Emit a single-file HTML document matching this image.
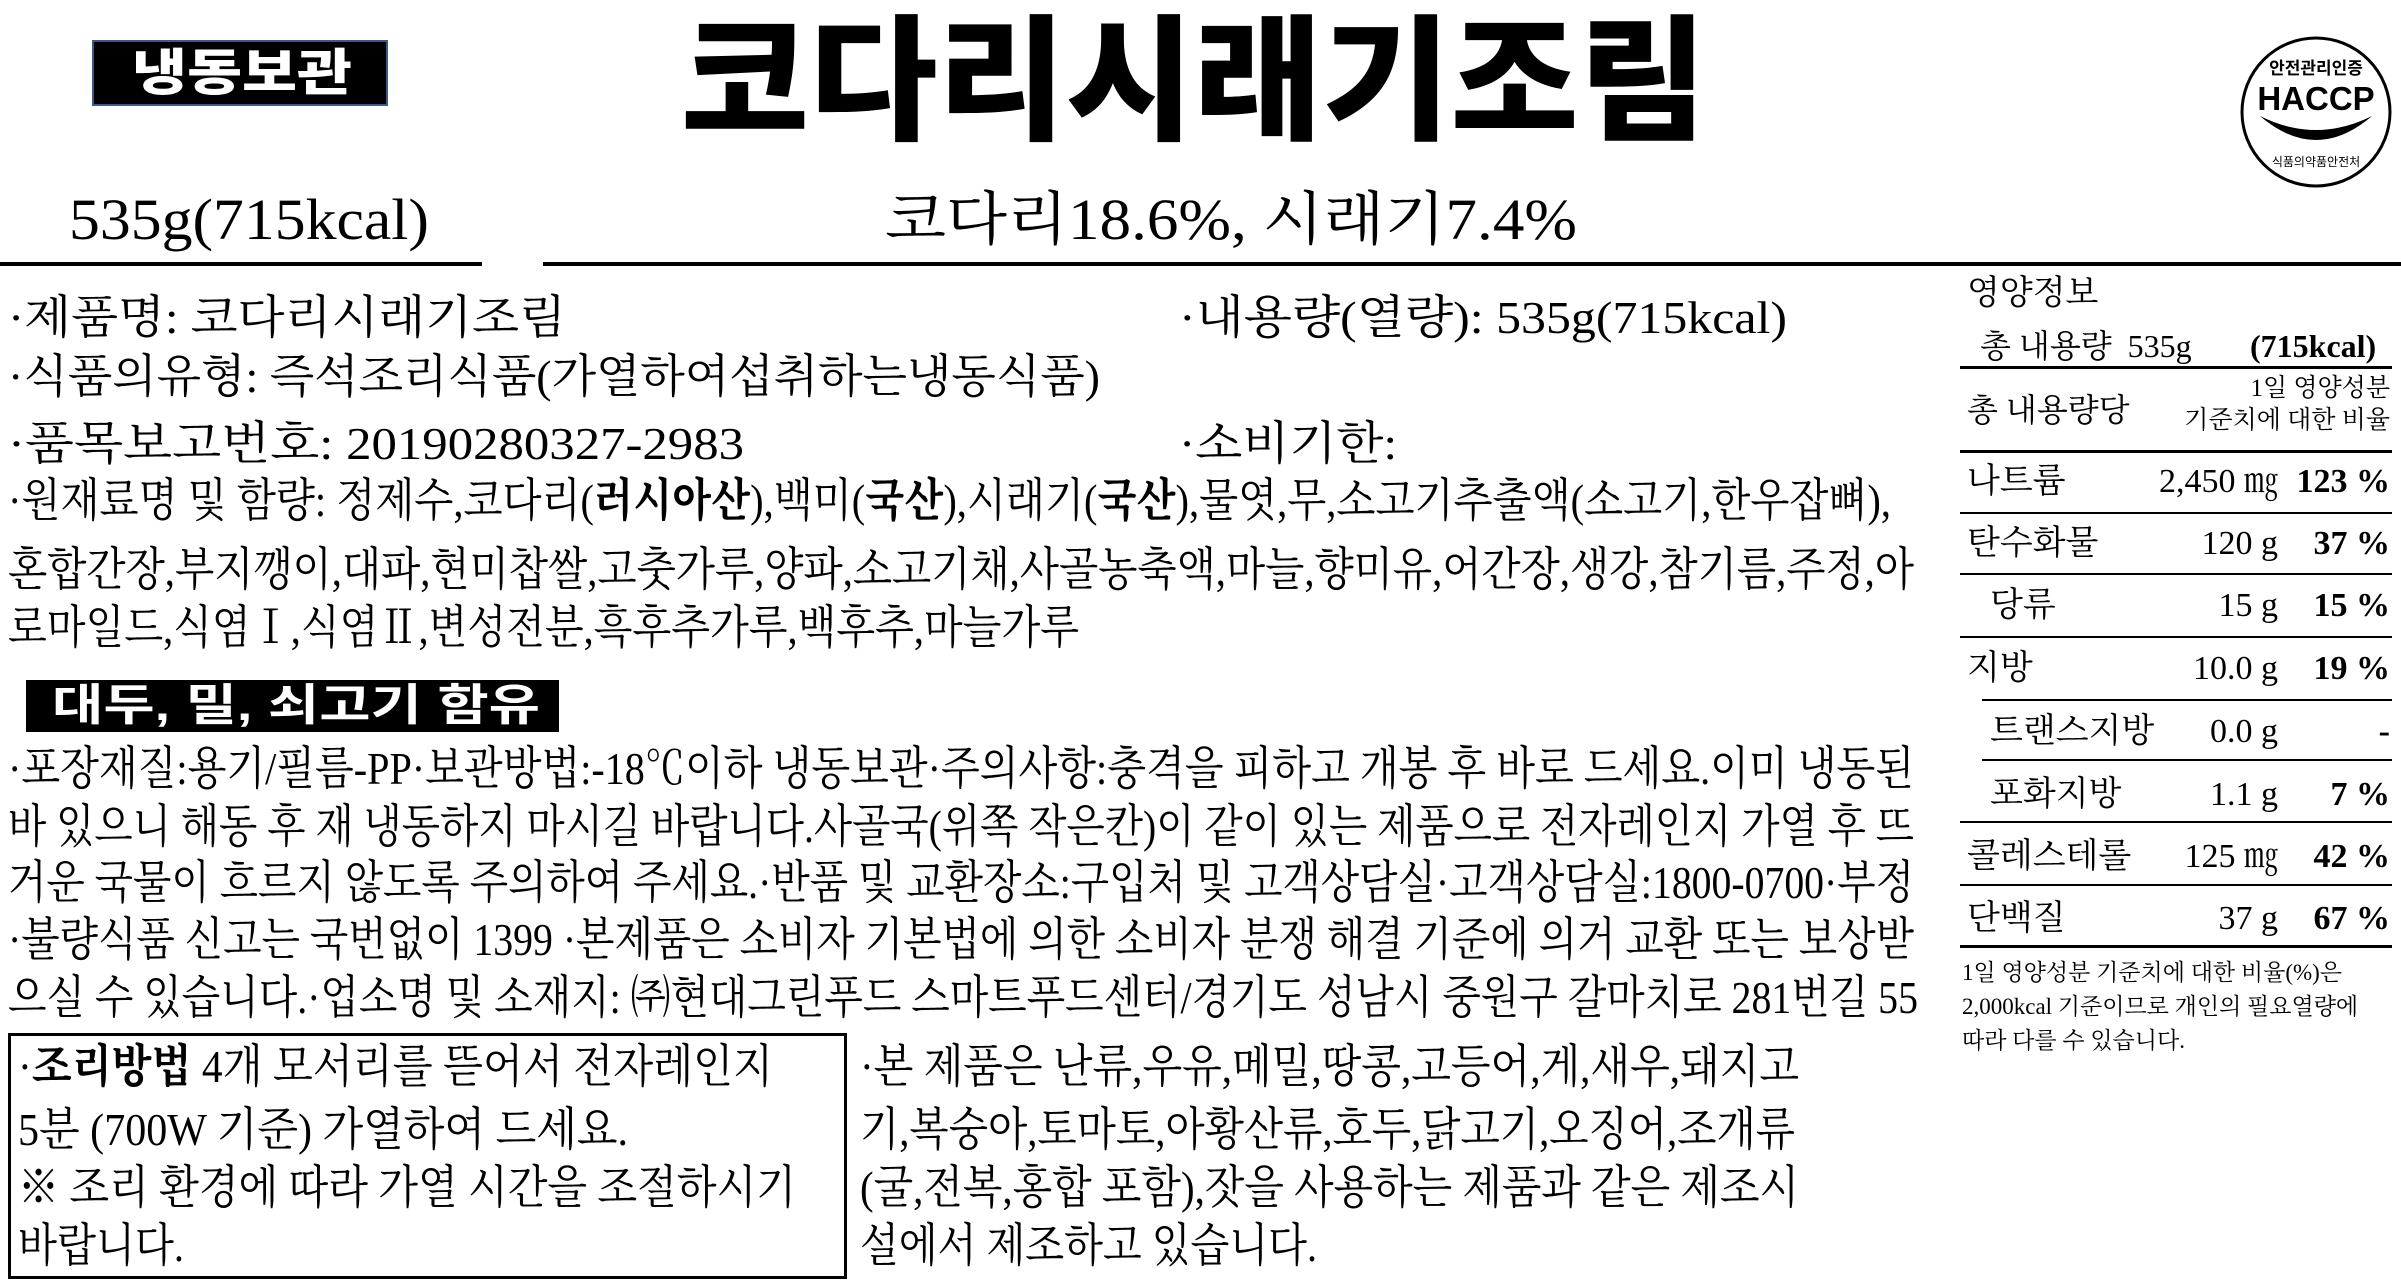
<!DOCTYPE html>
<html lang="ko">
<head>
<meta charset="utf-8">
<style>
  html,body{margin:0;padding:0;background:#fff;}
  #page{position:relative;width:2401px;height:1284px;overflow:hidden;background:#fff;color:#000;
    font-family:"Liberation Serif","Noto Serif CJK SC",serif;}
  .ln{position:absolute;white-space:nowrap;line-height:60px;height:60px;font-size:46px;transform-origin:0 50%;}
  .fit{display:inline-block;}
  .sans{font-family:"Liberation Sans","Noto Sans CJK KR",sans-serif;}
  .hr{position:absolute;background:#000;}
  .nut{position:absolute;white-space:nowrap;font-size:34px;line-height:40px;}
  .r{text-align:right;}
  b{font-weight:bold;}
</style>
</head>
<body>
<div id="page">

  <div
       style="position:absolute;left:92px;top:40px;width:296px;height:66px;background:#000;border:2px solid #3b5a8a;box-sizing:border-box;"></div>
  <div class="ln sans"
       style="left:132px;top:43px;font-size:50px;color:#fff;font-weight:900;"><span class="fit" data-w="220">냉동보관</span></div>

  <div class="ln sans"
       style="left:681px;top:12px;height:140px;line-height:140px;font-size:136px;font-weight:900;"><span class="fit" data-w="1026">코다리시래기조림</span></div>

  <svg style="position:absolute;left:2238px;top:34px;" width="156" height="156" viewBox="0 0 156 156">
    <circle cx="78" cy="78" r="74" fill="#fff" stroke="#000" stroke-width="3"/>
    <text x="78" y="40" text-anchor="middle" font-size="17" font-weight="bold" font-family="Liberation Sans, Noto Sans CJK KR, sans-serif">안전관리인증</text>
    <text x="78" y="76" text-anchor="middle" font-size="33" font-weight="bold" font-family="Liberation Sans, sans-serif">HACCP</text>
    <path d="M22,82 Q78,130 134,82 Q78,110 22,82 Z" fill="#000"/>
    <text x="78" y="132" text-anchor="middle" font-size="12" fill="#000" font-family="Liberation Sans, Noto Sans CJK KR, sans-serif">식품의약품안전처</text>
  </svg>

  <div class="ln" style="left:69px;top:188px;font-size:58px;height:64px;line-height:64px;"><span class="fit" data-w="360">535g(715kcal)</span></div>
  <div class="ln" style="left:885px;top:188px;font-size:58px;height:64px;line-height:64px;"><span class="fit" data-w="692">코다리18.6%, 시래기7.4%</span></div>
  <div class="hr" style="left:0;top:262px;width:482px;height:4px;"></div>
  <div class="hr" style="left:543px;top:262px;width:1858px;height:4px;"></div>

  <div class="ln" style="left:8px;top:288px;"><span class="fit" data-w="558">·제품명: 코다리시래기조림</span></div>
  <div class="ln" style="left:1179px;top:288px;"><span class="fit" data-w="608">·내용량(열량): 535g(715kcal)</span></div>
  <div class="ln" style="left:8px;top:347px;"><span class="fit" data-w="1092">·식품의유형: 즉석조리식품(가열하여섭취하는냉동식품)</span></div>
  <div class="ln" style="left:8px;top:414px;"><span class="fit" data-w="736">·품목보고번호: 20190280327-2983</span></div>
  <div class="ln" style="left:1179px;top:414px;"><span class="fit" data-w="218">·소비기한:</span></div>
  <div class="ln" style="left:8px;top:471px;"><span class="fit" data-w="1883">·원재료명 및 함량: 정제수,코다리(<b>러시아산</b>),백미(<b>국산</b>),시래기(<b>국산</b>),물엿,무,소고기추출액(소고기,한우잡뼈),</span></div>
  <div class="ln" style="left:8px;top:540px;"><span class="fit" data-w="1906">혼합간장,부지깽이,대파,현미찹쌀,고춧가루,양파,소고기채,사골농축액,마늘,향미유,어간장,생강,참기름,주정,아</span></div>
  <div class="ln" style="left:8px;top:598px;"><span class="fit" data-w="1071">로마일드,식염Ⅰ,식염Ⅱ,변성전분,흑후추가루,백후추,마늘가루</span></div>

  <div style="position:absolute;left:26px;top:680px;width:533px;height:52px;background:#000;"></div>
  <div class="ln sans" style="left:52px;top:676px;font-size:44px;color:#fff;font-weight:bold;"><span class="fit" data-w="488">대두, 밀, 쇠고기 함유</span></div>

  <div class="ln" style="left:8px;top:739px;"><span class="fit" data-w="1906">·포장재질:용기/필름-PP·보관방법:-18℃이하 냉동보관·주의사항:충격을 피하고 개봉 후 바로 드세요.이미 냉동된</span></div>
  <div class="ln" style="left:8px;top:797px;"><span class="fit" data-w="1906">바 있으니 해동 후 재 냉동하지 마시길 바랍니다.사골국(위쪽 작은칸)이 같이 있는 제품으로 전자레인지 가열 후 뜨</span></div>
  <div class="ln" style="left:8px;top:853px;"><span class="fit" data-w="1906">거운 국물이 흐르지 않도록 주의하여 주세요.·반품 및 교환장소:구입처 및 고객상담실·고객상담실:1800-0700·부정</span></div>
  <div class="ln" style="left:8px;top:910px;"><span class="fit" data-w="1906">·불량식품 신고는 국번없이 1399 ·본제품은 소비자 기본법에 의한 소비자 분쟁 해결 기준에 의거 교환 또는 보상받</span></div>
  <div class="ln" style="left:8px;top:968px;"><span class="fit" data-w="1910">으실 수 있습니다.·업소명 및 소재지: ㈜현대그린푸드 스마트푸드센터/경기도 성남시 중원구 갈마치로 281번길 55</span></div>

  <div style="position:absolute;left:8px;top:1033px;width:839px;height:246px;border:3px solid #000;box-sizing:border-box;"></div>
  <div class="ln" style="left:18px;top:1037px;"><span class="fit" data-w="755">·<b>조리방법</b> 4개 모서리를 뜯어서 전자레인지</span></div>
  <div class="ln" style="left:18px;top:1100px;"><span class="fit" data-w="610">5분 (700W 기준) 가열하여 드세요.</span></div>
  <div class="ln" style="left:18px;top:1158px;"><span class="fit" data-w="778">※ 조리 환경에 따라 가열 시간을 조절하시기</span></div>
  <div class="ln" style="left:18px;top:1216px;"><span class="fit" data-w="166">바랍니다.</span></div>

  <div class="ln" style="left:860px;top:1037px;"><span class="fit" data-w="939">·본 제품은 난류,우유,메밀,땅콩,고등어,게,새우,돼지고</span></div>
  <div class="ln" style="left:860px;top:1100px;"><span class="fit" data-w="935">기,복숭아,토마토,아황산류,호두,닭고기,오징어,조개류</span></div>
  <div class="ln" style="left:860px;top:1158px;"><span class="fit" data-w="939">(굴,전복,홍합 포함),잣을 사용하는 제품과 같은 제조시</span></div>
  <div class="ln" style="left:860px;top:1216px;"><span class="fit" data-w="457">설에서 제조하고 있습니다.</span></div>

  <div class="nut" style="left:1967px;top:274px;">영양정보</div>
  <div class="nut" style="left:1980px;top:326px;font-size:32px;">총 내용량 &nbsp;535g</div>
  <div class="nut" style="left:2250px;top:326px;font-size:32px;font-weight:bold;">(715kcal)</div>
  <div class="hr" style="left:1960px;top:366px;width:432px;height:3px;"></div>
  <div class="nut" style="left:1967px;top:390px;font-size:32px;">총 내용량당</div>
  <div class="nut r" style="left:2100px;width:290px;top:374px;font-size:25px;line-height:30px;">1일 영양성분</div>
  <div class="nut r" style="left:2100px;width:290px;top:406px;font-size:25px;line-height:30px;">기준치에 대한 비율</div>
  <div class="hr" style="left:1960px;top:450px;width:432px;height:3px;"></div>

  <div id="nutrows"></div>

  <div class="nut" style="left:1962px;top:958px;font-size:23px;line-height:30px;">1일 영양성분 기준치에 대한 비율(%)은</div>
  <div class="nut" style="left:1962px;top:992px;font-size:23px;line-height:30px;">2,000kcal 기준이므로 개인의 필요열량에</div>
  <div class="nut" style="left:1962px;top:1026px;font-size:23px;line-height:30px;">따라 다를 수 있습니다.</div>
</div>

<script>
const nutrientNames = ["나트륨","탄수화물","당류","지방","트랜스지방","포화지방","콜레스테롤","단백질"];
const nutrientAmounts = ["2,450 ㎎","120 g","15 g","10.0 g","0.0 g","1.1 g","125 ㎎","37 g"];
const nutrientPercents = ["123 %","37 %","15 %","19 %","-","7 %","42 %","67 %"];
const nutrientIndented = [false,false,true,false,true,true,false,false];
const rowCenters = [482,544,606,669,732,795,857,919];
const ruleTops = [512,573,636,699,759,821,884,945];
const ruleIndent = [false,false,false,true,true,false,false,false];

const host = document.getElementById('nutrows');
nutrientNames.forEach((n,i)=>{
  const name = document.createElement('div');
  name.className='nut';
  name.style.left=(nutrientIndented[i]?1990:1967)+'px';
  name.style.top=(rowCenters[i]-20)+'px';
  name.textContent=n;
  
  
  host.appendChild(name);

  const amt = document.createElement('div');
  amt.className='nut r';
  amt.style.left='2080px'; amt.style.width='198px';
  amt.style.top=(rowCenters[i]-20)+'px';
  amt.textContent=nutrientAmounts[i];
  
  
  host.appendChild(amt);

  const pct = document.createElement('div');
  pct.className='nut r';
  pct.style.left='2280px'; pct.style.width='110px';
  pct.style.top=(rowCenters[i]-20)+'px';
  pct.style.fontWeight='bold';
  pct.textContent=nutrientPercents[i];
  
  
  host.appendChild(pct);

  const rule = document.createElement('div');
  rule.className='hr';
  const l = ruleIndent[i]?1982:1960;
  rule.style.left=l+'px';
  rule.style.width=(2392-l)+'px';
  rule.style.top=ruleTops[i]+'px';
  rule.style.height=(i===nutrientNames.length-1?'3px':'2px');
  
  
  host.appendChild(rule);
});

document.querySelectorAll('.fit').forEach(s=>{
  const w = parseFloat(s.getAttribute('data-w'));
  const cw = s.getBoundingClientRect().width;
  if(cw>0){ s.style.transform='scaleX('+(w/cw)+')'; s.style.transformOrigin='0 50%'; }
});
</script>
</body>
</html>
